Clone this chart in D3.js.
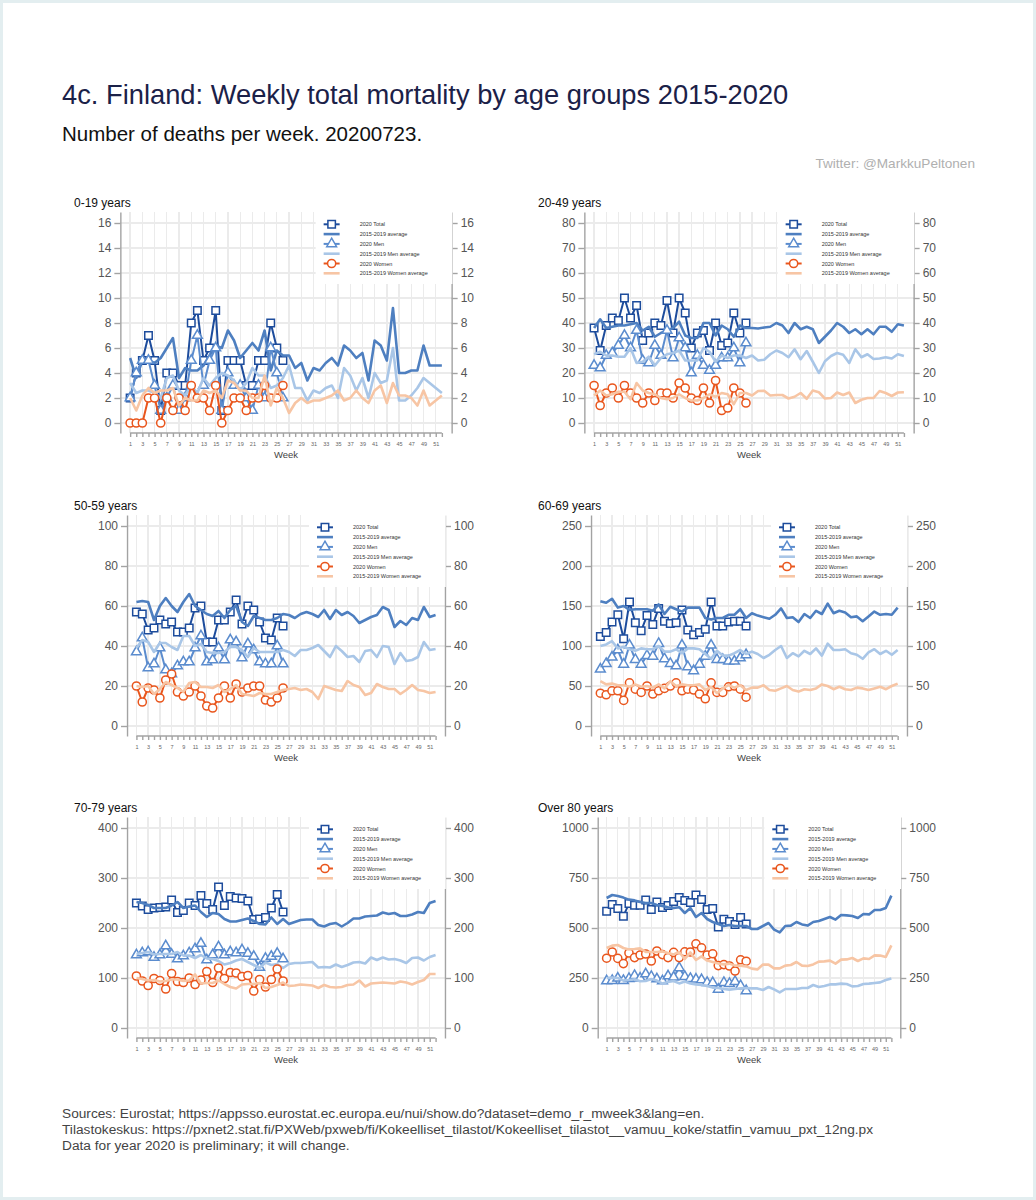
<!DOCTYPE html>
<html>
<head>
<meta charset="utf-8">
<title>Finland: Weekly total mortality by age groups</title>
<style>
body { margin: 0; background: #e3eef0; }
text { font-family: "Liberation Sans", Arial, sans-serif; }
.grid line { stroke: #ebebeb; stroke-width: 1.3; shape-rendering: crispEdges; }
.yaxis path, .yaxis line, .xaxis line, line.xdomain { stroke: #a3a3a3; stroke-width: 1.4; }
.yaxis text { font-size: 12px; fill: #555; }
.xaxis text { font-size: 5.5px; fill: #666; }
.legend text { font-size: 5.5px; fill: #333; }
</style>
</head>
<body>
<div id="chart"></div>
<script src="https://cdn.jsdelivr.net/npm/d3@7"></script>
<script>
(function() {
    // ---- data ----
    var weeks = d3.range(1, 53);
    var weeks2020 = d3.range(1, 27);
    var weekLabels = weeks.filter(function(w) { return w % 2 === 1; });
    var seriesNames = ["2020 Total", "2015-2019 average", "2020 Men",
                       "2015-2019 Men average", "2020 Women", "2015-2019 Women average"];
    var ageGroups = ["0-19 years", "20-49 years", "50-59 years", "60-69 years", "70-79 years", "Over 80 years"];

    var yTicks019 = [0, 2, 4, 6, 8, 10, 12, 14, 16];
    var yTicks2049 = [0, 10, 20, 30, 40, 50, 60, 70, 80];
    var yTicks5059 = [0, 20, 40, 60, 80, 100];
    var yTicks6069 = [0, 50, 100, 150, 200, 250];
    var yTicks7079 = [0, 100, 200, 300, 400];
    var yTicks80 = [0, 250, 500, 750, 1000];

    // 0-19
    var total019 = [2, 4, 5, 7, 5, 1, 4, 4, 3, 3, 8, 9, 5, 6, 9, 1, 5, 5, 5, 3, 3, 5, 5, 8, 6, 5];
    var men019 = [2, 4, 5, 5, 3, 1, 2, 3, 1, 2, 5, 7, 3, 5, 6, 1, 4, 3, 3, 2, 1, 3, 2, 6, 4, 2];
    var women019 = [0, 0, 0, 2, 2, 0, 2, 1, 2, 1, 3, 2, 2, 1, 3, 0, 1, 2, 2, 1, 2, 2, 3, 2, 2, 3];
    var avg019 = [5.2, 3.6, 5, 5, 4.8, 5.2, 6, 6.8, 3.6, 4.4, 4.2, 4.2, 4.6, 5.4, 6.2, 6, 7.4, 6.6, 5.2, 5.8,
                  6.4, 5.8, 7.4, 4.2, 5.8, 5.4, 5.4, 4.4, 4.8, 3.4, 4.4, 4.2, 4.8, 5.2, 4.6, 6.2, 5.8, 5.2, 5.6, 3.4,
                  6.6, 6.2, 5, 9.2, 4, 4, 4.2, 4.2, 6.2, 4.6, 4.6, 4.6];
    var menAvg019 = [3.2, 2.4, 2.6, 2.6, 2.4, 2.0, 3.6, 3.8, 2.6, 2.2, 3.0, 2.4, 3.6, 3.0, 3.6, 4.0, 3.8, 3.4, 2.6, 3.2,
                     4.4, 3.8, 3.8, 2.8, 3.0, 3.6, 4.6, 2.8, 2.8, 1.8, 2.6, 2.4, 2.8, 3.0, 2.0, 4.4, 3.8, 2.6, 3.6, 2.0,
                     4.0, 3.2, 3.4, 6.0, 1.8, 1.8, 2.2, 2.8, 3.6, 3.2, 2.8, 2.4];
    var womenAvg019 = [2.0, 1.0, 2.2, 2.8, 2.4, 2.6, 2.6, 2.8, 1.4, 2.0, 1.8, 1.8, 2.6, 2.4, 2.6, 2.0, 3.4, 3.2, 2.6, 2.6,
                       2.0, 2.0, 3.8, 1.4, 2.8, 2.0, 0.8, 1.6, 2.0, 1.6, 1.8, 1.8, 2.0, 2.2, 2.6, 1.8, 2.0, 2.6, 2.0, 1.6,
                       2.6, 3.0, 1.6, 3.2, 2.2, 2.2, 2.0, 1.4, 2.6, 1.4, 1.8, 2.2];

    // 20-49
    var total2049 = [38, 29, 39, 42, 41, 50, 42, 47, 33, 36, 40, 39, 49, 36, 50, 44, 30, 36, 37, 29, 40, 31, 32, 44, 36, 40];
    var men2049 = [23, 22, 27, 28, 31, 35, 30, 37, 25, 24, 31, 27, 37, 26, 34, 30, 20, 27, 23, 21, 23, 26, 26, 30, 24, 32];
    var women2049 = [15, 7, 12, 14, 10, 15, 12, 10, 8, 12, 9, 12, 12, 10, 16, 14, 10, 9, 14, 8, 17, 5, 6, 14, 12, 8];
    var avg2049 = [38, 41.5, 38, 38.5, 39, 39, 39.5, 40, 37, 38.5, 34.5, 36, 37, 38, 40.5, 35, 34, 34, 40, 40,
                   35, 39, 37.5, 34.5, 39, 38, 38, 37.8, 38.2, 38.5, 40, 39, 36, 40, 37.5, 38.5, 37.5, 32, 34.5, 37,
                   40, 38.5, 36, 37.5, 35.5, 37.5, 35.5, 38.5, 38.5, 36.5, 39.5, 39];
    var menAvg2049 = [27.5, 28.5, 27, 27, 26.5, 26.5, 30, 24, 24.5, 26.5, 23, 26, 27.5, 28, 29, 25, 25, 25, 30, 28.5,
                      24.5, 27, 26, 27, 27, 26, 27, 25, 25.3, 27.5, 29, 28, 26.3, 29.5, 25.5, 28.8, 24.5, 20, 24.7, 26.8,
                      28, 27.3, 24, 29.5, 26.3, 27.5, 25.6, 25.8, 26.3, 25.8, 27.5, 26.8];
    var womenAvg2049 = [11, 13, 11, 11.5, 12.5, 12.5, 9.5, 16, 13, 12, 11.5, 10, 9.5, 10, 11.5, 10, 9, 9, 10, 11.5,
                        10.5, 12, 11.5, 7.5, 12, 12, 11, 12.8, 12.9, 11, 11.2, 11.2, 9.8, 10.5, 12, 9.7, 13, 12.3, 9.8, 10,
                        12.2, 11.2, 12.2, 8, 9.3, 10, 10, 12.8, 12, 10.8, 12.2, 12.3];

    // 50-59
    var total5059 = [57, 56, 48, 49, 53, 51, 52, 47, 47, 49, 59, 60, 42, 42, 53, 53, 57, 63, 51, 60, 58, 52, 44, 43, 54, 50];
    var men5059 = [37, 44, 29, 31, 39, 28, 26, 30, 32, 32, 39, 45, 32, 33, 39, 33, 43, 42, 34, 41, 38, 32, 31, 31, 40, 31];
    var women5059 = [20, 12, 19, 18, 14, 23, 26, 17, 15, 17, 20, 15, 10, 9, 14, 20, 14, 21, 17, 19, 20, 20, 13, 12, 14, 19];
    var avg5059 = [62, 62.5, 62, 53, 60, 64, 60, 57, 62, 66, 60, 58, 56, 55, 57.5, 54, 58, 60, 52, 50,
                   55, 54, 53, 53, 54, 56, 55.5, 54, 56, 57, 56, 54.5, 58, 53.5, 58, 55.5, 57, 55, 51.5, 53,
                   54.5, 55.5, 59.5, 58, 49.5, 52.5, 50.5, 54, 53, 59.5, 54.5, 55.5];
    var menAvg5059 = [39, 43, 42, 37, 41.5, 41.5, 39.5, 38, 45, 45, 40, 41, 37, 36.5, 36.5, 37, 39.5, 39.5, 38, 34.5,
                      39, 37, 37, 37, 37, 38, 37, 35, 38, 38, 39, 40.5, 37.5, 34.5, 40, 37.5, 34.5, 35, 32, 37.5,
                      38, 34.5, 40, 39.5, 31, 36.5, 32.5, 33, 34.5, 42, 38, 38.5];
    var womenAvg5059 = [20, 19.5, 20, 16, 18.5, 22, 20.5, 19, 17, 21.5, 22, 19.5, 19.5, 19, 20.5, 17, 18.5, 20.5, 16, 15.5,
                        15, 16.5, 16, 16, 17, 18, 18.5, 19, 18, 18.5, 17, 13.5, 20, 19, 18, 17.5, 22.5, 20.5, 19.5, 15.5,
                        16.5, 21, 19.5, 18.5, 18.5, 16, 18, 20.5, 18, 17.5, 16.5, 17];

    // 60-69
    var total6069 = [112, 117, 130, 139, 109, 155, 129, 119, 138, 127, 147, 131, 128, 129, 145, 120, 114, 117, 121, 155, 125, 125, 130, 131, 131, 125];
    var men6069 = [71, 78, 86, 95, 77, 101, 83, 77, 88, 87, 103, 84, 78, 75, 101, 74, 69, 77, 87, 101, 83, 83, 81, 81, 85, 89];
    var women6069 = [41, 39, 44, 44, 32, 54, 46, 42, 50, 40, 44, 47, 50, 54, 44, 46, 45, 40, 34, 54, 42, 42, 49, 50, 46, 36];
    var avg6069 = [156, 154, 159, 148, 150, 145, 146, 146, 146, 144, 152, 140, 149, 146, 143, 148, 148, 148, 135, 133,
                   135, 135, 139, 139, 146, 135, 141, 138, 136, 134, 139, 147, 135, 136, 130, 140, 135, 144, 140, 153,
                   141, 144, 142, 136, 137, 131, 137, 143, 139, 140, 139, 148];
    var menAvg6069 = [100, 102, 106, 97, 99, 96, 94, 97, 96, 96, 100, 93, 93, 96, 91, 97, 97, 96, 90, 84,
                      94, 88, 88, 91, 95, 90, 93, 90, 85, 89, 95, 100, 85, 91, 87, 94, 90, 97, 88, 103,
                      95, 95, 96, 91, 89, 84, 92, 96, 90, 94, 89, 95];
    var womenAvg6069 = [56, 52, 53, 51, 51, 49, 52, 49, 50, 48, 52, 47, 56, 50, 52, 51, 51, 52, 45, 49,
                        41, 47, 51, 48, 51, 45, 48, 48, 51, 45, 44, 47, 50, 45, 43, 46, 45, 47, 52, 50,
                        46, 49, 46, 45, 48, 47, 45, 47, 49, 46, 50, 53];

    // 70-79
    var total7079 = [250, 244, 237, 240, 241, 242, 256, 231, 235, 250, 245, 265, 249, 237, 282, 245, 263, 260, 259, 254, 217, 218, 221, 240, 267, 232];
    var men7079 = [146, 150, 152, 141, 146, 164, 147, 138, 144, 150, 158, 169, 136, 146, 162, 146, 152, 150, 156, 149, 143, 121, 139, 143, 149, 138];
    var women7079 = [104, 94, 85, 99, 95, 78, 109, 93, 91, 100, 87, 96, 113, 91, 120, 99, 111, 110, 103, 105, 74, 97, 82, 97, 118, 94];
    var avg7079 = [252, 250, 246, 240, 240, 240, 245, 252, 240, 243, 245, 232, 222, 230, 228, 218, 213, 213, 216, 219,
                   214, 208, 207, 221, 208, 218, 208, 212, 216, 217, 217, 206, 203, 208, 210, 203, 210, 219, 219, 223,
                   224, 225, 231, 228, 230, 224, 224, 227, 232, 230, 250, 254];
    var menAvg7079 = [148, 150, 152, 147, 148, 148, 148, 152, 145, 145, 140, 146, 139, 138, 134, 127, 130, 135, 138, 132,
                      126, 120, 131, 126, 128, 120, 128, 130, 130, 131, 132, 121, 122, 121, 127, 122, 126, 131, 132, 129,
                      141, 136, 141, 137, 138, 135, 130, 140, 141, 135, 142, 146];
    var womenAvg7079 = [100, 98, 95, 96, 93, 94, 97, 97, 94, 95, 107, 89, 90, 90, 95, 88, 82, 79, 87, 88,
                        88, 90, 80, 82, 86, 91, 84, 85, 87, 86, 85, 80, 86, 82, 81, 82, 86, 87, 95, 83,
                        89, 90, 91, 90, 89, 93, 91, 87, 92, 96, 108, 108];

    // over 80
    var total80 = [584, 617, 597, 559, 622, 614, 614, 640, 592, 630, 602, 612, 632, 653, 638, 627, 665, 642, 592, 597, 505, 544, 532, 517, 552, 520];
    var men80 = [235, 237, 249, 237, 247, 262, 249, 270, 257, 245, 235, 260, 254, 301, 257, 247, 244, 241, 227, 226, 193, 227, 222, 232, 211, 186];
    var women80 = [349, 380, 348, 322, 375, 352, 365, 370, 335, 385, 367, 352, 378, 352, 381, 380, 421, 401, 365, 371, 312, 317, 310, 285, 341, 334];
    var avg80 = [650, 665, 660, 652, 642, 638, 630, 625, 625, 615, 610, 604, 600, 604, 575, 600, 555, 575, 545, 530,
                 520, 510, 515, 510, 510, 510, 495, 495, 510, 525, 492, 478, 510, 512, 530, 518, 512, 530, 535, 545,
                 555, 542, 565, 563, 560, 550, 570, 568, 590, 590, 600, 662];
    var menAvg80 = [250, 252, 250, 237, 240, 244, 234, 235, 245, 237, 222, 230, 235, 223, 232, 223, 218, 215, 210, 202,
                    200, 195, 192, 195, 198, 200, 198, 198, 190, 205, 193, 178, 195, 195, 195, 200, 200, 215, 205, 210,
                    218, 218, 222, 220, 208, 210, 220, 222, 225, 228, 240, 248];
    var womenAvg80 = [400, 412, 415, 400, 393, 395, 398, 380, 380, 380, 383, 375, 368, 380, 345, 378, 340, 358, 337, 330,
                      322, 318, 322, 312, 312, 308, 297, 293, 317, 317, 298, 298, 312, 315, 330, 312, 310, 318, 332, 333,
                      337, 322, 342, 343, 350, 335, 348, 345, 363, 362, 355, 413];

    var panels = [
        { name: ageGroups[0], ticks: yTicks019, series: [total019, avg019, men019, menAvg019, women019, womenAvg019] },
        { name: ageGroups[1], ticks: yTicks2049, series: [total2049, avg2049, men2049, menAvg2049, women2049, womenAvg2049] },
        { name: ageGroups[2], ticks: yTicks5059, series: [total5059, avg5059, men5059, menAvg5059, women5059, womenAvg5059] },
        { name: ageGroups[3], ticks: yTicks6069, series: [total6069, avg6069, men6069, menAvg6069, women6069, womenAvg6069] },
        { name: ageGroups[4], ticks: yTicks7079, series: [total7079, avg7079, men7079, menAvg7079, women7079, womenAvg7079] },
        { name: ageGroups[5], ticks: yTicks80, series: [total80, avg80, men80, menAvg80, women80, womenAvg80] }
    ];

    // ---- styles / layout ----
    var styles = [
        { color: "#1d4c9c", width: 2, marker: d3.symbolSquare, size: 56 },
        { color: "#4e7fc0", width: 2.6, marker: null },
        { color: "#5b8cce", width: 2, marker: d3.symbolTriangle, size: 42 },
        { color: "#a9c6e7", width: 2.6, marker: null },
        { color: "#e9561d", width: 2, marker: d3.symbolCircle, size: 52 },
        { color: "#f7c5a4", width: 2.6, marker: null }
    ];
    var dimensions = { width: 1036, height: 1200 };
    var colLeft = [98, 562], colRight = [474, 936];
    var rowTop = [223, 526, 828];
    var fmt = d3.format("d");

    var svg = d3.select("#chart").append("svg")
        .attr("width", dimensions.width)
        .attr("height", dimensions.height);
    svg.append("rect")
        .attr("x", 3).attr("y", 3)
        .attr("width", dimensions.width - 6).attr("height", dimensions.height - 6)
        .attr("fill", "white");

    svg.append("text")
        .attr("x", 62).attr("y", 104)
        .attr("font-size", 27.3).attr("fill", "#1b2148")
        .text("4c. Finland: Weekly total mortality by age groups 2015-2020");
    svg.append("text")
        .attr("x", 62).attr("y", 141)
        .attr("font-size", 20.5).attr("fill", "#111")
        .text("Number of deaths per week. 20200723.");
    svg.append("text")
        .attr("x", 975).attr("y", 168)
        .attr("text-anchor", "end")
        .attr("font-size", 13.6).attr("fill", "#b0b0b0")
        .text("Twitter: @MarkkuPeltonen");

    var footer = [
        "Sources: Eurostat; https://appsso.eurostat.ec.europa.eu/nui/show.do?dataset=demo_r_mweek3&lang=en.",
        "Tilastokeskus: https://pxnet2.stat.fi/PXWeb/pxweb/fi/Kokeelliset_tilastot/Kokeelliset_tilastot__vamuu_koke/statfin_vamuu_pxt_12ng.px",
        "Data for year 2020 is preliminary; it will change."
    ];
    svg.append("g").selectAll("text")
        .data(footer)
        .enter().append("text")
        .attr("x", 62)
        .attr("y", function(d, i) { return 1118 + i * 16; })
        .attr("font-size", 13.7).attr("fill", "#444")
        .text(function(d) { return d; });

    function draw_panel(p, i) {
        var col = i % 2, row = Math.floor(i / 2);
        var top = rowTop[row];
        var maxV = p.ticks[p.ticks.length - 1];
        var g = svg.append("g").attr("class", "panel");

        var y = d3.scaleLinear()
            .domain([-0.05 * maxV, 1.055 * maxV])
            .range([top + 210, top - 11]);

        // width of the widest tick label sets the plot edges
        var probe = g.append("g").attr("class", "yaxis").append("text");
        var labelW = d3.max(p.ticks, function(t) {
            probe.text(fmt(t));
            return probe.node().getComputedTextLength();
        });
        probe.node().parentNode.remove();
        var L = colLeft[col] + labelW + 9;
        var R = colRight[col] - labelW - 9;

        var x = d3.scaleLinear()
            .domain([1 - 1.6, 52 + 1.6])
            .range([L, R]);

        g.append("text")
            .attr("x", colLeft[col] - 24).attr("y", top - 16)
            .attr("font-size", 12).attr("fill", "#111")
            .text(p.name);

        var grid = g.append("g").attr("class", "grid");
        grid.selectAll("line.h")
            .data(p.ticks)
            .enter().append("line")
            .attr("class", "h")
            .attr("x1", L).attr("x2", R)
            .attr("y1", function(d) { return y(d); })
            .attr("y2", function(d) { return y(d); });
        grid.selectAll("line.v")
            .data(weekLabels)
            .enter().append("line")
            .attr("class", "v")
            .attr("x1", function(d) { return x(d); })
            .attr("x2", function(d) { return x(d); })
            .attr("y1", y.range()[1]).attr("y2", y.range()[0]);

        p.series.forEach(function(vals, k) {
            var st = styles[k];
            var wk = vals.length === 52 ? weeks : weeks2020;
            var pts = vals.map(function(v, j) { return [wk[j], v]; });
            var line = d3.line()
                .x(function(d) { return x(d[0]); })
                .y(function(d) { return y(d[1]); });
            g.append("path")
                .attr("d", line(pts))
                .attr("fill", "none")
                .attr("stroke", st.color)
                .attr("stroke-width", st.width)
                .attr("stroke-linejoin", "round");
            if (st.marker) {
                g.selectAll(null)
                    .data(pts)
                    .enter().append("path")
                    .attr("d", d3.symbol().type(st.marker).size(st.size))
                    .attr("transform", function(d) { return "translate(" + x(d[0]) + "," + y(d[1]) + ")"; })
                    .attr("fill", "white")
                    .attr("stroke", st.color)
                    .attr("stroke-width", 1.5);
            }
        });

        // axes
        g.append("g")
            .attr("class", "yaxis")
            .attr("transform", "translate(" + L + ",0)")
            .call(d3.axisLeft(y).tickValues(p.ticks).tickFormat(fmt)
                .tickSize(6).tickSizeOuter(0).tickPadding(3));
        g.append("g")
            .attr("class", "yaxis")
            .attr("transform", "translate(" + R + ",0)")
            .call(d3.axisRight(y).tickValues(p.ticks).tickFormat(fmt)
                .tickSize(6).tickSizeOuter(0).tickPadding(3));
        var xa = g.append("g")
            .attr("class", "xaxis")
            .attr("transform", "translate(0," + (top + 210) + ")")
            .call(d3.axisBottom(x).tickValues(weeks).tickSize(4).tickPadding(5)
                .tickFormat(function(d) { return d % 2 ? d : ""; }));
        xa.select(".domain").remove();
        xa.append("line")
            .attr("class", "xdomain")
            .attr("x1", x(1)).attr("x2", x(52));
        g.append("text")
            .attr("x", (L + R) / 2).attr("y", top + 235)
            .attr("text-anchor", "middle")
            .attr("font-size", 9.5).attr("fill", "#444")
            .text("Week");

        // legend
        var lg = g.append("g").attr("class", "legend");
        lg.append("rect")
            .attr("x", R - 136).attr("y", top - 11)
            .attr("width", 136.8).attr("height", 72)
            .attr("fill", "white");
        seriesNames.forEach(function(name, k) {
            var st = styles[k];
            var ly = top + 1.3 + k * 9.8;
            lg.append("line")
                .attr("x1", R - 128).attr("x2", R - 112)
                .attr("y1", ly).attr("y2", ly)
                .attr("stroke", st.color)
                .attr("stroke-width", st.width);
            if (st.marker) {
                lg.append("path")
                    .attr("d", d3.symbol().type(st.marker).size(st.size))
                    .attr("transform", "translate(" + (R - 120) + "," + ly + ")")
                    .attr("fill", "white")
                    .attr("stroke", st.color)
                    .attr("stroke-width", 1.5);
            }
            lg.append("text")
                .attr("x", R - 92).attr("y", ly + 2)
                .text(name);
        });
    }

    panels.forEach(draw_panel);
})();
</script>
</body>
</html>
